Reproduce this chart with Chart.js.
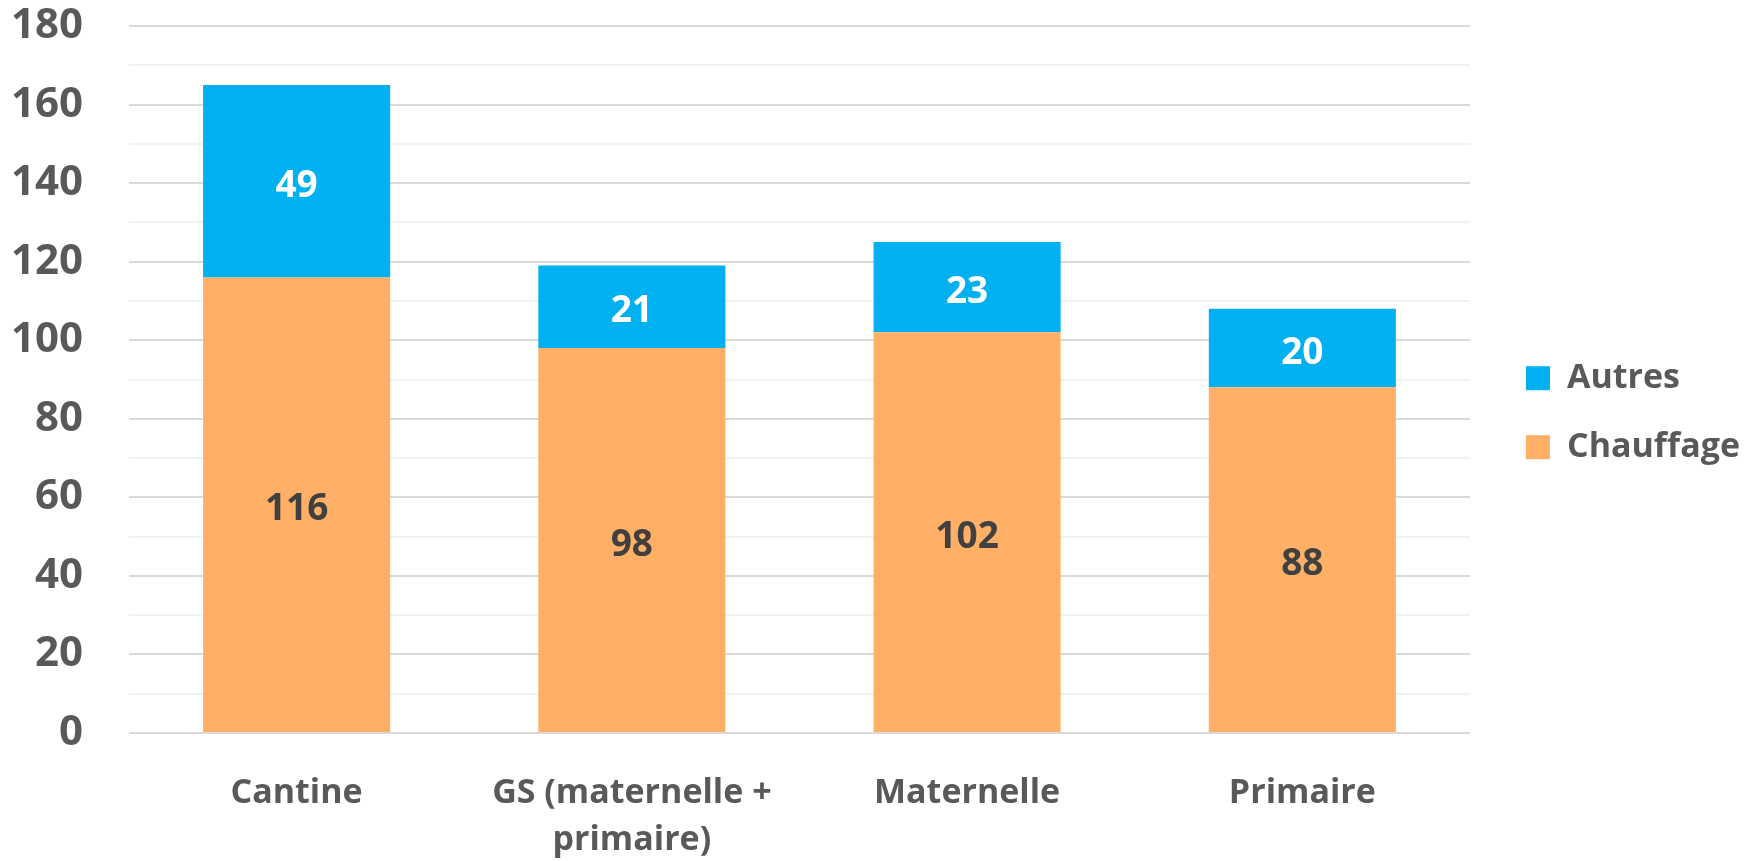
<!DOCTYPE html>
<html>
<head>
<meta charset="utf-8">
<script src="https://cdn.jsdelivr.net/npm/chart.js@4"></script>
<style>
  html, body { margin: 0; padding: 0; background: #fff; }
  #wrap { width: 1754px; height: 861px; }
</style>
</head>
<body>
<div id="wrap"><canvas id="chart"></canvas></div>
<script>
// données
const categories = ['Cantine', ['GS (maternelle +', 'primaire)'], 'Maternelle', 'Primaire'];
const chauffage = [116, 98, 102, 88];
const autres = [49, 21, 23, 20];

const gris = '#595959';

// étiquettes au centre de chaque segment
const etiquettesPlugin = {
  id: 'etiquettes',
  afterDatasetsDraw(chart) {
    const ctx = chart.ctx;
    ctx.save();
    ctx.font = "bold 37px 'Open Sans'";
    ctx.textAlign = 'center';
    ctx.textBaseline = 'middle';
    chart.data.datasets.forEach((ds, i) => {
      const meta = chart.getDatasetMeta(i);
      meta.data.forEach((bar, j) => {
        const p = bar.getProps(['x', 'y', 'base'], true);
        ctx.fillStyle = ds.labelColor;
        ctx.fillText(ds.data[j], p.x, (p.y + p.base) / 2 + 5);
      });
    });
    ctx.restore();
  }
};

Chart.defaults.font.family = "'Open Sans', sans-serif";
Chart.defaults.font.weight = 'bold';
Chart.defaults.color = gris;

new Chart(document.getElementById('chart'), {
  type: 'bar',
  data: {
    labels: categories,
    datasets: [
      {
        label: 'Chauffage',
        data: chauffage,
        backgroundColor: '#FFB066',
        labelColor: '#404040'
      },
      {
        label: 'Autres',
        data: autres,
        backgroundColor: '#00B0F0',
        labelColor: '#ffffff'
      }
    ]
  },
  options: {
    responsive: true,
    maintainAspectRatio: false,
    animation: false,
    layout: { padding: { top: 26, bottom: 0, left: 0, right: 4 } },
    datasets: { bar: { categoryPercentage: 1, barPercentage: 0.558 } },
    plugins: {
      tooltip: { enabled: false },
      legend: {
        position: 'right',
        fullSize: false,
        reverse: true,
        // titre vide pour descendre un peu la légende
        title: { display: true, text: '', font: { size: 12 }, padding: { top: 52, bottom: 0 } },
        labels: {
          boxWidth: 24,
          boxHeight: 24,
          padding: 35,
          color: gris,
          font: { size: 34, weight: 'bold' }
        }
      }
    },
    scales: {
      x: {
        stacked: true,
        grid: { display: false, drawTicks: false },
        border: { display: false },
        ticks: {
          color: gris,
          padding: 37,
          maxRotation: 0,
          autoSkip: false,
          font: { size: 34, weight: 'bold', lineHeight: 1.38 }
        },
        afterFit: s => { s.height = 128; }
      },
      y: {
        stacked: true,
        min: 0,
        max: 180,
        border: { display: false },
        grid: {
          drawTicks: false,
          lineWidth: 2,
          color: c => (c.tick && c.tick.value % 20 === 0) ? '#d9d9d9' : '#f2f2f2'
        },
        ticks: {
          stepSize: 10,
          autoSkip: false,
          padding: 46,
          color: gris,
          font: { size: 42, weight: 'bold' },
          callback: v => v % 20 === 0 ? v : ''
        },
        afterFit: s => { s.width = 129; s.paddingTop = 0; s.paddingBottom = 0; }
      },
      y2: {
        position: 'right',
        grid: { display: false, drawTicks: false },
        border: { display: false },
        ticks: { display: false },
        afterFit: s => { s.width = 21; }
      }
    }
  },
  plugins: [etiquettesPlugin]
});
</script>
</body>
</html>
